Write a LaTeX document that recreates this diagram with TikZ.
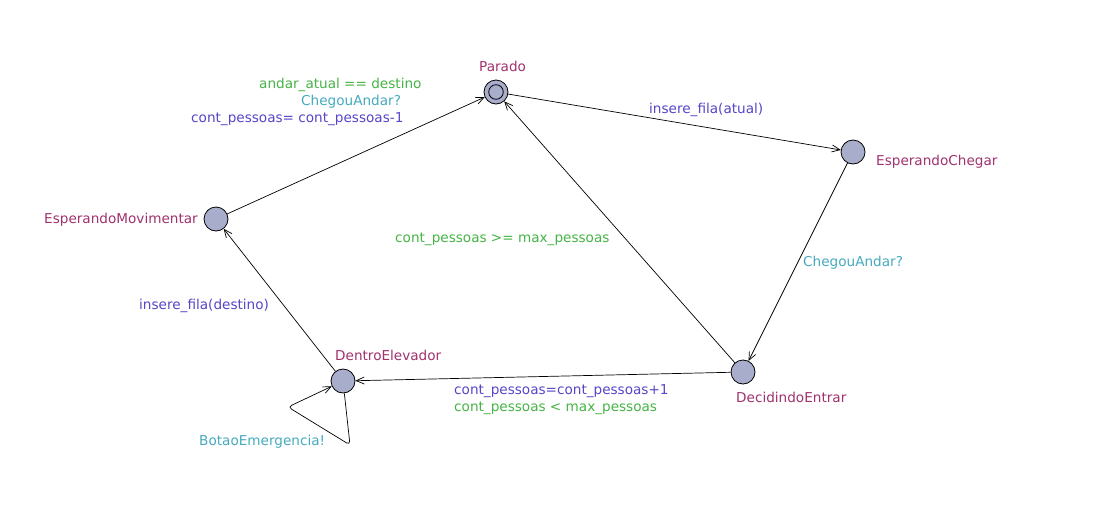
\documentclass[tikz,border=0pt]{standalone}
\usepackage{fontspec}
\setmainfont{DejaVu Sans}
\usetikzlibrary{arrows.meta}
\definecolor{locname}{RGB}{160,50,110}
\definecolor{guardc}{RGB}{70,180,70}
\definecolor{syncc}{RGB}{70,170,190}
\definecolor{updc}{RGB}{85,70,200}
\definecolor{locfill}{RGB}{168,173,204}
\tikzset{
  loc/.style={circle,draw=black,fill=locfill,line width=0.8pt,minimum size=24pt,inner sep=0pt},
  lbl/.style={anchor=base west,inner sep=0pt,font=\fontsize{13.6}{16}\selectfont},
  lname/.style={lbl,text=locname},
  guard/.style={lbl,text=guardc},
  sync/.style={lbl,text=syncc},
  upd/.style={lbl,text=updc},
  edge/.style={draw=black,line width=0.7pt,-{Straight Barb[length=8pt,width=7pt,line width=0.7pt]}}
}
\begin{document}
\begin{tikzpicture}[x=1pt,y=-1pt]
\useasboundingbox[fill=white] (0,0) rectangle (1095,531);
% locations
\node[loc] (p) at (496,92) {};
\draw[line width=0.8pt] (p.center) circle (7.3);
\node[loc] (ec) at (853,152) {};
\node[loc] (em) at (216,219) {};
\node[loc] (de) at (343,381) {};
\node[loc] (di) at (743,372) {};
% location names
\node[lname] (np) at (479,71) {Parado};
\node[lname] (nec) at (876,165) {EsperandoChegar};
\node[lname] (nem) at (44,223) {EsperandoMovimentar};
\node[lname] (nde) at (335,360) {DentroElevador};
\node[lname] (ndi) at (736,402) {DecidindoEntrar};
% edges
\draw[edge] (p) -- (ec);
\draw[edge] (ec) -- (di);
\draw[edge] (di) -- (p);
\draw[edge] (di) -- (de);
\draw[edge] (de) -- (em);
\draw[edge] (em) -- (p);
\coordinate (l1) at (350,445);
\coordinate (l2) at (288,407);
\draw[edge,rounded corners=4pt] (de) -- (l1) -- (l2) -- (de);
% edge labels
\node[upd] (t1) at (649,113) {insere\_fila(atual)};
\node[sync] (t2) at (803,266) {ChegouAndar?};
\node[guard] (t3) at (395,242) {cont\_pessoas >= max\_pessoas};
\node[upd] (t4) at (454,394) {cont\_pessoas=cont\_pessoas+1};
\node[guard] (t5) at (454,411) {cont\_pessoas < max\_pessoas};
\node[upd] (t6) at (139,309) {insere\_fila(destino)};
\node[guard] (t7) at (259,88) {andar\_atual == destino};
\node[sync] (t8) at (301,105) {ChegouAndar?};
\node[upd] (t9) at (191,122) {cont\_pessoas= cont\_pessoas-1};
\node[sync] (t10) at (199,445) {BotaoEmergencia!};
\end{tikzpicture}
\end{document}
